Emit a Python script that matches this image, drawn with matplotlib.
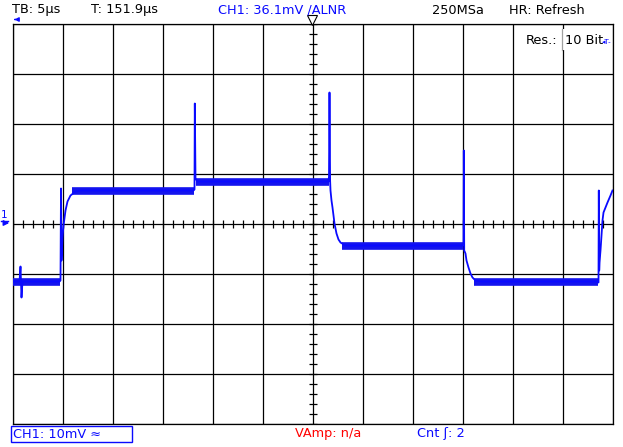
import matplotlib
matplotlib.use('Agg')
import matplotlib.pyplot as plt
from matplotlib.patches import Rectangle

# screen: 12 div x 5 us, 8 div x 10 mV, ground at centre
t_div = 5.0
v_div = 10.0
n_xdiv = 12
n_ydiv = 8

# CH1 trace, key points (time in us, voltage in mV)
trace_t = [0.0, 0.7, 0.8, 0.9, 1.0, 4.7, 4.8, 4.85, 4.9, 5.0, 5.1, 5.3, 5.5, 5.8, 6.3, 6.8,
           18.1, 18.2, 18.23, 18.3, 18.5, 31.6, 31.65, 31.7, 31.76, 31.8, 31.9, 32.0, 32.1,
           32.2, 32.4, 32.6, 32.8, 33.3, 45.0, 45.1, 45.13, 45.17, 45.3, 45.4, 45.6, 45.8,
           46.0, 46.3, 46.8, 58.5, 58.6, 58.63, 58.67, 58.7, 58.8, 58.9, 59.0, 59.1, 59.3,
           59.5, 59.8, 60.0]
trace_v = [-11.6, -11.6, -8.6, -14.8, -11.6, -11.6, -11.4, 7.0, -7.4, -2.8, -0.4, 2.6, 4.4,
           5.6, 6.4, 6.6, 6.6, 6.8, 24.0, 9.0, 8.4, 8.4, 9.4, 26.2, 8.6, 6.6, 4.6, 3.2, 1.6,
           0.0, -2.0, -3.2, -3.8, -4.4, -4.4, -4.2, 14.6, -5.4, -6.0, -7.4, -8.8, -10.0,
           -10.8, -11.4, -11.6, -11.6, -11.8, 6.6, -9.4, -7.8, -5.4, -2.4, 0.6, 2.2, 3.2,
           4.2, 5.6, 6.6]

# noisy flat parts: start, end, level
band_t0 = [0.0, 5.9, 18.3, 32.9, 46.1]
band_t1 = [4.75, 18.15, 31.65, 45.05, 58.55]
band_v = [-11.6, 6.6, 8.4, -4.4, -11.6]

blue = '#0a0aff'
W, H = 623, 447

fig = plt.figure(figsize=(W / 100, H / 100), dpi=100)
fig.patch.set_facecolor('white')

# graticule area 12..612 x 23..423 px
ax = fig.add_axes([12.5 / W, 1 - 423.5 / H, 600 / W, 400 / H])
ax.set_xlim(0, n_xdiv * t_div)
ax.set_ylim(-n_ydiv / 2 * v_div, n_ydiv / 2 * v_div)
ax.set_xticks([i * t_div for i in range(n_xdiv + 1)])
ax.set_yticks([(j - n_ydiv / 2) * v_div for j in range(n_ydiv + 1)])
ax.tick_params(length=0, labelbottom=False, labelleft=False)
ax.grid(True, color='black', linewidth=0.9)
for s in ax.spines.values():
    s.set_linewidth(0.9)

# small ticks on the centre lines
xc = n_xdiv / 2 * t_div
minor_t = [i * t_div / 5 for i in range(n_xdiv * 5 + 1)]
minor_v = [(j - n_ydiv * 5 / 2) * v_div / 5 for j in range(n_ydiv * 5 + 1)]
ax.plot(minor_t, [0] * len(minor_t), ls='none', marker='|', ms=6, mew=0.9, color='black')
ax.plot([xc] * len(minor_v), minor_v, ls='none', marker='_', ms=6, mew=0.9, color='black')

# noise band on the flat parts
ax.hlines(band_v, band_t0, band_t1, color='#1414ee', linewidth=5.5, zorder=3)
ax.plot(trace_t, trace_v, color=blue, linewidth=1.3, zorder=4)

# overlay in screen pixels for the readouts
ov = fig.add_axes([0, 0, 1, 1])
ov.set_xlim(0, W)
ov.set_ylim(H, 0)
ov.axis('off')
ov.patch.set_alpha(0)

fs = 9.3
ov.text(12, 10, 'TB: 5\u00b5s', fontsize=fs, va='center', ha='left')
ov.text(91, 10, 'T: 151.9\u00b5s', fontsize=fs, va='center', ha='left')
ov.text(218, 10, 'CH1: 36.1mV /ALNR', fontsize=fs, va='center', ha='left', color=blue)
ov.text(432, 10, '250MSa', fontsize=fs, va='center', ha='left')
ov.text(509, 10, 'HR: Refresh', fontsize=fs, va='center', ha='left')
ov.annotate('', xy=(11.5, 19.5), xytext=(18, 19.5),
            arrowprops=dict(arrowstyle='-|>', color=blue, lw=1.0, mutation_scale=6))

# trigger marker at top centre
ov.plot([312], [20], marker='v', ms=7, mfc='white', mec='black', mew=0.8)

# resolution readout
ov.add_patch(Rectangle((523, 29), 78, 21, facecolor='white', edgecolor='none', zorder=3))
ov.plot([561.5, 561.5], [29, 50], color='#a0a0a0', lw=0.9, zorder=4)
ov.text(526, 40, 'Res.:', fontsize=fs, va='center', ha='left', zorder=5)
ov.text(565, 40, '10 Bit', fontsize=fs, va='center', ha='left', zorder=5)
ov.text(602, 42, '\u25c2T-', fontsize=5.0, va='center', ha='left', color=blue, zorder=5)

# ground marker of CH1
ov.text(4, 215.5, '1', fontsize=7.5, va='center', ha='center', color=blue)
ov.plot([1, 7.5], [220.5, 220.5], color=blue, lw=1.0)
ov.annotate('', xy=(12, 223), xytext=(1, 223),
            arrowprops=dict(arrowstyle='-|>', color=blue, lw=1.0, mutation_scale=8))

# bottom readouts
ov.add_patch(Rectangle((11, 425.5), 121, 16.5, facecolor='none', edgecolor=blue, lw=1.0))
ov.text(13, 434, 'CH1: 10mV \u2248', fontsize=fs, va='center', ha='left', color=blue)
ov.text(295, 434, 'VAmp: n/a', fontsize=fs, va='center', ha='left', color='#ff0000')
ov.text(417, 434, 'Cnt \u0283: 2', fontsize=fs, va='center', ha='left', color=blue)

fig.savefig('out.png', dpi=100)
